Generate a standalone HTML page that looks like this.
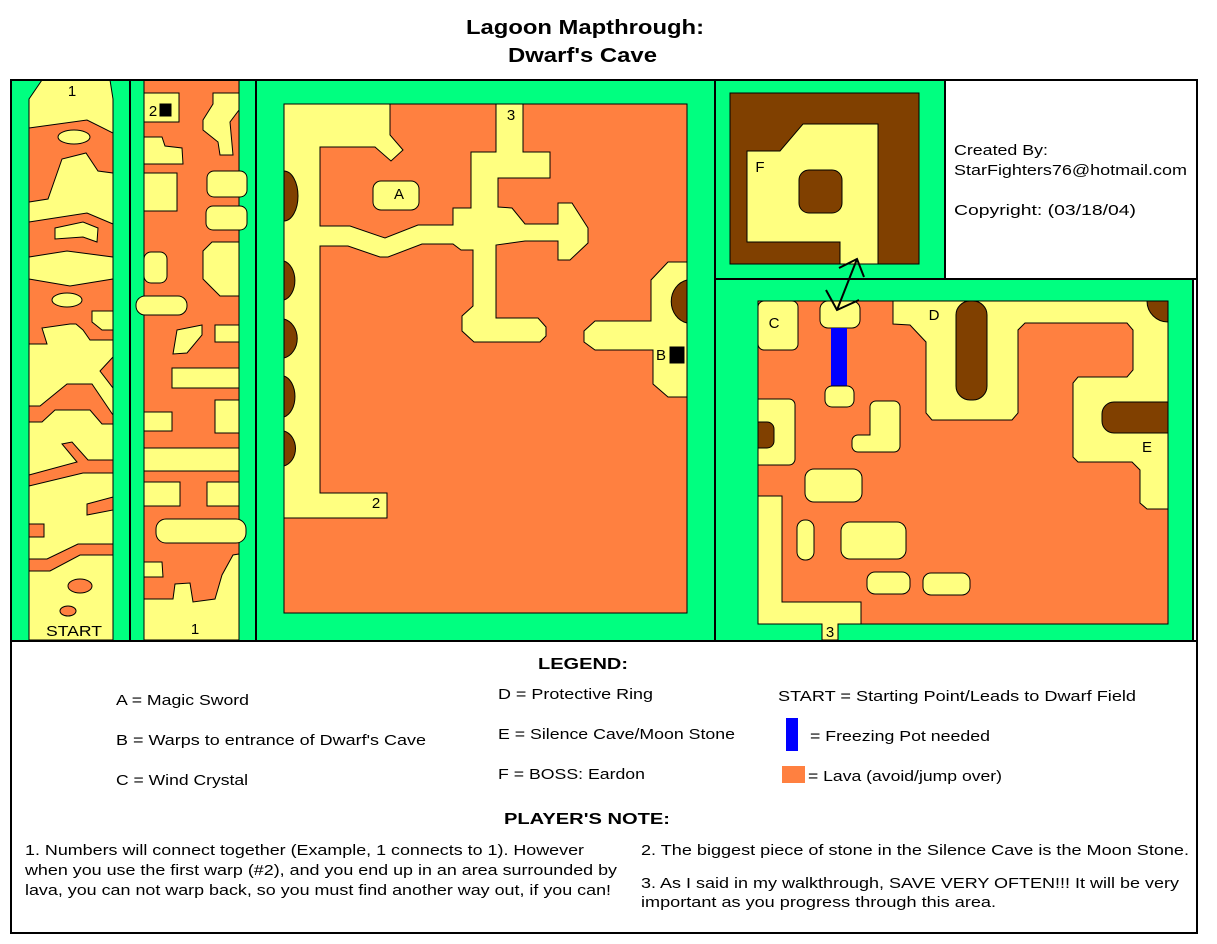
<!DOCTYPE html>
<html><head><meta charset="utf-8"><style>
body{margin:0;background:#fff;}
svg{display:block;font-family:"Liberation Sans",Arial,sans-serif;}
</style></head><body>
<svg width="1217" height="944" viewBox="0 0 1217 944" xmlns="http://www.w3.org/2000/svg">
<rect width="1217" height="944" fill="#fff"/>
<g fill="#000" font-weight="bold" font-size="20">
<text x="466" y="34" textLength="238" lengthAdjust="spacingAndGlyphs">Lagoon Mapthrough:</text>
<text x="508" y="62" textLength="149" lengthAdjust="spacingAndGlyphs">Dwarf's Cave</text>
</g>

<g stroke="#000" stroke-width="1">
<rect x="12" y="80" width="118" height="560" fill="#00ff80" stroke="none"/>
<polygon points="29,99 42,80 110,80 113,99 113,640 29,640" fill="#ffff80"/>
<polygon points="29,128 87,120 113,133 113,173 98,171 86,153 62,159 48,199 29,202" fill="#ff8040"/>
<ellipse cx="74" cy="137" rx="16" ry="7" fill="#ffff80"/>
<polygon points="29,222 87,213 113,224 113,257 67,251 29,257" fill="#ff8040"/>
<polygon points="55,228 83,222 98,228 97,242 83,237 55,239" fill="#ffff80"/>
<polygon points="29,279 70,286 113,279 113,340 90,340 83,330 76,324 70,324 42,328 47,344 29,344" fill="#ff8040"/>
<ellipse cx="67" cy="300" rx="15" ry="7" fill="#ffff80"/>
<polygon points="92,311 113,311 113,330 102,330 92,322" fill="#ffff80"/>
<polygon points="113,357 100,371 113,388" fill="#ff8040"/>
<polygon points="29,406 40,406 67,384 92,384 113,415 113,424 102,424 90,410 55,410 42,422 29,422" fill="#ff8040"/>
<polygon points="29,475 77,462 62,444 72,442 88,460 113,460 113,473 83,473 29,486" fill="#ff8040"/>
<polygon points="87,504 113,497 113,510 87,515" fill="#ff8040"/>
<rect x="29" y="524" width="15" height="13" fill="#ff8040"/>
<polygon points="29,559 47,559 78,544 113,544 113,555 80,555 50,571 29,571" fill="#ff8040"/>
<ellipse cx="80" cy="586" rx="12" ry="7" fill="#ff8040"/>
<ellipse cx="68" cy="611" rx="8" ry="5" fill="#ff8040"/>

<rect x="131" y="80" width="124" height="560" fill="#00ff80" stroke="none"/>
<rect x="144" y="80" width="95" height="560" fill="#ff8040"/>
<rect x="144" y="93" width="35" height="29" fill="#ffff80"/>
<polygon points="213,93 239,93 239,110 230,122 233,155 220,155 218,142 203,130 203,120 213,104" fill="#ffff80"/>
<polygon points="144,137 162,137 165,146 182,148 183,164 144,164" fill="#ffff80"/>
<rect x="144" y="173" width="33" height="38" fill="#ffff80"/>
<rect x="207" y="171" width="40" height="26" rx="7" fill="#ffff80"/>
<rect x="206" y="206" width="41" height="24" rx="7" fill="#ffff80"/>
<rect x="144" y="252" width="23" height="31" rx="7" fill="#ffff80"/>
<polygon points="212,242 239,242 239,296 220,296 203,279 203,251" fill="#ffff80"/>
<rect x="136" y="296" width="51" height="19" rx="9" fill="#ffff80"/>
<polygon points="177,330 202,325 202,335 187,353 173,354" fill="#ffff80"/>
<rect x="215" y="325" width="24" height="17" fill="#ffff80"/>
<rect x="172" y="368" width="67" height="20" fill="#ffff80"/>
<rect x="215" y="400" width="24" height="33" fill="#ffff80"/>
<rect x="144" y="412" width="28" height="19" fill="#ffff80"/>
<rect x="144" y="448" width="95" height="23" fill="#ffff80"/>
<rect x="144" y="482" width="36" height="24" fill="#ffff80"/>
<rect x="207" y="482" width="32" height="24" fill="#ffff80"/>
<rect x="156" y="519" width="90" height="24" rx="10" fill="#ffff80"/>
<polygon points="144,562 162,562 163,577 144,577" fill="#ffff80"/>
<polygon points="144,599 173,599 175,584 190,583 193,602 215,599 222,575 233,555 239,554 239,640 144,640" fill="#ffff80"/>
<rect x="160" y="104" width="11" height="12" fill="#000"/>

<rect x="256" y="80" width="459" height="560" fill="#00ff80" stroke="none"/>
<rect x="284" y="104" width="403" height="509" fill="#ff8040"/>
<polygon points="284,104 390,104 390,135 403,150 391,161 375,147 320,147 320,226 350,226 385,238 418,225 453,225 453,208 471,208 471,152 496,152 496,104 523,104 523,152 550,152 550,178 498,178 498,207 512,208 525,224 558,224 558,203 572,203 588,228 588,243 570,260 558,260 558,241 525,241 496,245 496,318 538,318 546,327 546,336 540,342 474,342 462,331 462,316 473,306 473,250 461,250 453,244 422,244 388,257 380,257 348,246 320,246 320,493 387,493 387,518 284,518" fill="#ffff80"/>
<rect x="373" y="181" width="46" height="29" rx="8" fill="#ffff80"/>
<path d="M284,171 A14,25 0 0 1 284,221 Z" fill="#804000"/>
<path d="M284,261 A14,20 0 0 1 284,300 Z" fill="#804000"/>
<path d="M284,319 A17,20 0 0 1 284,358 Z" fill="#804000"/>
<path d="M284,376 A14,21 0 0 1 284,417 Z" fill="#804000"/>
<path d="M284,431 A15,18 0 0 1 284,466 Z" fill="#804000"/>
<polygon points="687,262 668,262 651,280 651,321 595,321 584,331 584,342 595,350 653,350 653,384 668,397 687,397" fill="#ffff80"/>
<path d="M687,280 A20,22 0 0 0 687,323 Z" fill="#804000"/>
<rect x="670" y="347" width="14" height="16" fill="#000"/>

<rect x="716" y="80" width="228" height="199" fill="#00ff80" stroke="none"/>
<rect x="730" y="93" width="189" height="171" fill="#804000"/>
<polygon points="747,151 780,151 803,124 878,124 878,264 840,264 840,242 747,242" fill="#ffff80"/>
<rect x="799" y="170" width="43" height="43" rx="10" fill="#804000"/>

<rect x="716" y="279" width="477" height="361" fill="#00ff80" stroke="none"/>
<rect x="758" y="301" width="410" height="323" fill="#ff8040"/>
<polygon points="893,301 1168,301 1168,509 1147,509 1140,503 1140,470 1132,462 1078,462 1073,457 1073,383 1078,377 1127,377 1133,370 1133,330 1127,323 1025,323 1018,330 1018,413 1012,420 932,420 926,413 926,342 910,325 893,324" fill="#ffff80"/>
<rect x="956" y="301" width="31" height="99" rx="14" fill="#804000"/>
<path d="M1147,301 L1168,301 L1168,322 A21,21 0 0 1 1147,301 Z" fill="#804000"/>
<path d="M1168,402 L1114,402 A12,12 0 0 0 1102,414 L1102,421 A12,12 0 0 0 1114,433 L1168,433 Z" fill="#804000"/>
<rect x="758" y="301" width="40" height="49" rx="6" fill="#ffff80"/>
<rect x="820" y="301" width="40" height="27" rx="8" fill="#ffff80"/>
<rect x="831" y="328" width="16" height="58" fill="#0000ff" stroke="none"/>
<rect x="825" y="386" width="29" height="21" rx="7" fill="#ffff80"/>
<path d="M758,399 L789,399 A6,6 0 0 1 795,405 L795,459 A6,6 0 0 1 789,465 L758,465 Z" fill="#ffff80"/>
<path d="M758,422 L767,422 A7,7 0 0 1 774,429 L774,441 A7,7 0 0 1 767,448 L758,448 Z" fill="#804000"/>
<path d="M876,401 L894,401 A6,6 0 0 1 900,407 L900,446 A6,6 0 0 1 894,452 L858,452 A6,6 0 0 1 852,446 L852,441 A6,6 0 0 1 858,435 L870,435 L870,407 A6,6 0 0 1 876,401 Z" fill="#ffff80"/>
<rect x="805" y="469" width="57" height="33" rx="9" fill="#ffff80"/>
<rect x="797" y="520" width="17" height="40" rx="8" fill="#ffff80"/>
<rect x="841" y="522" width="65" height="37" rx="9" fill="#ffff80"/>
<rect x="867" y="572" width="43" height="22" rx="8" fill="#ffff80"/>
<rect x="923" y="573" width="47" height="22" rx="8" fill="#ffff80"/>
<polygon points="758,496 782,496 782,602 861,602 861,624 838,624 838,640 822,640 822,624 758,624" fill="#ffff80"/>
</g>

<g stroke="#000" stroke-width="2" fill="none">
<line x1="857" y1="259" x2="837" y2="310"/>
<polyline points="839,268 857,259 864,277"/>
<polyline points="826,290 837,310 859,300"/>
</g>

<g stroke="#000" stroke-width="2" fill="none">
<line x1="10" y1="80" x2="1198" y2="80"/>
<line x1="11" y1="80" x2="11" y2="933"/>
<line x1="1197" y1="80" x2="1197" y2="933"/>
<line x1="10" y1="933" x2="1198" y2="933"/>
<line x1="10" y1="641" x2="1198" y2="641"/>
<line x1="130" y1="80" x2="130" y2="641"/>
<line x1="256" y1="80" x2="256" y2="641"/>
<line x1="715" y1="80" x2="715" y2="641"/>
<line x1="715" y1="279" x2="1197" y2="279"/>
<line x1="945" y1="80" x2="945" y2="279"/>
<line x1="1193" y1="279" x2="1193" y2="641"/>
</g>

<g fill="#000" font-size="15">
<text x="72" y="96" text-anchor="middle">1</text>
<text x="74" y="636" text-anchor="middle" textLength="56" lengthAdjust="spacingAndGlyphs">START</text>
<text x="153" y="116" text-anchor="middle">2</text>
<text x="195" y="634" text-anchor="middle">1</text>
<text x="511" y="120" text-anchor="middle">3</text>
<text x="399" y="199" text-anchor="middle">A</text>
<text x="376" y="508" text-anchor="middle">2</text>
<text x="661" y="360" text-anchor="middle">B</text>
<text x="760" y="172" text-anchor="middle">F</text>
<text x="774" y="328" text-anchor="middle">C</text>
<text x="934" y="320" text-anchor="middle">D</text>
<text x="1147" y="452" text-anchor="middle">E</text>
<text x="830" y="637" text-anchor="middle">3</text>
<text x="954" y="155" textLength="94" lengthAdjust="spacingAndGlyphs">Created By:</text>
<text x="954" y="175" textLength="233" lengthAdjust="spacingAndGlyphs">StarFighters76@hotmail.com</text>
<text x="954" y="215" textLength="182" lengthAdjust="spacingAndGlyphs">Copyright: (03/18/04)</text>
</g>

<g fill="#000" font-size="16" font-weight="bold">
<text x="538" y="669" textLength="90" lengthAdjust="spacingAndGlyphs">LEGEND:</text>
<text x="504" y="824" textLength="166" lengthAdjust="spacingAndGlyphs">PLAYER'S NOTE:</text>
</g>
<g fill="#000" font-size="15">
<text x="116" y="705" textLength="133" lengthAdjust="spacingAndGlyphs">A = Magic Sword</text>
<text x="116" y="745" textLength="310" lengthAdjust="spacingAndGlyphs">B = Warps to entrance of Dwarf's Cave</text>
<text x="116" y="785" textLength="132" lengthAdjust="spacingAndGlyphs">C = Wind Crystal</text>
<text x="498" y="699" textLength="155" lengthAdjust="spacingAndGlyphs">D = Protective Ring</text>
<text x="498" y="739" textLength="237" lengthAdjust="spacingAndGlyphs">E = Silence Cave/Moon Stone</text>
<text x="498" y="779" textLength="147" lengthAdjust="spacingAndGlyphs">F = BOSS: Eardon</text>
<text x="778" y="701" textLength="358" lengthAdjust="spacingAndGlyphs">START = Starting Point/Leads to Dwarf Field</text>
<text x="810" y="741" textLength="180" lengthAdjust="spacingAndGlyphs">= Freezing Pot needed</text>
<text x="808" y="781" textLength="194" lengthAdjust="spacingAndGlyphs">= Lava (avoid/jump over)</text>
<text x="25" y="855" textLength="559" lengthAdjust="spacingAndGlyphs">1. Numbers will connect together (Example, 1 connects to 1). However</text>
<text x="25" y="875" textLength="592" lengthAdjust="spacingAndGlyphs">when you use the first warp (#2), and you end up in an area surrounded by</text>
<text x="25" y="895" textLength="586" lengthAdjust="spacingAndGlyphs">lava, you can not warp back, so you must find another way out, if you can!</text>
<text x="641" y="855" textLength="548" lengthAdjust="spacingAndGlyphs">2. The biggest piece of stone in the Silence Cave is the Moon Stone.</text>
<text x="641" y="888" textLength="538" lengthAdjust="spacingAndGlyphs">3. As I said in my walkthrough, SAVE VERY OFTEN!!! It will be very</text>
<text x="641" y="907" textLength="355" lengthAdjust="spacingAndGlyphs">important as you progress through this area.</text>
</g>
<rect x="786" y="718" width="12" height="33" fill="#0000ff"/>
<rect x="782" y="766" width="23" height="17" fill="#ff8040"/>
</svg>
</body></html>
